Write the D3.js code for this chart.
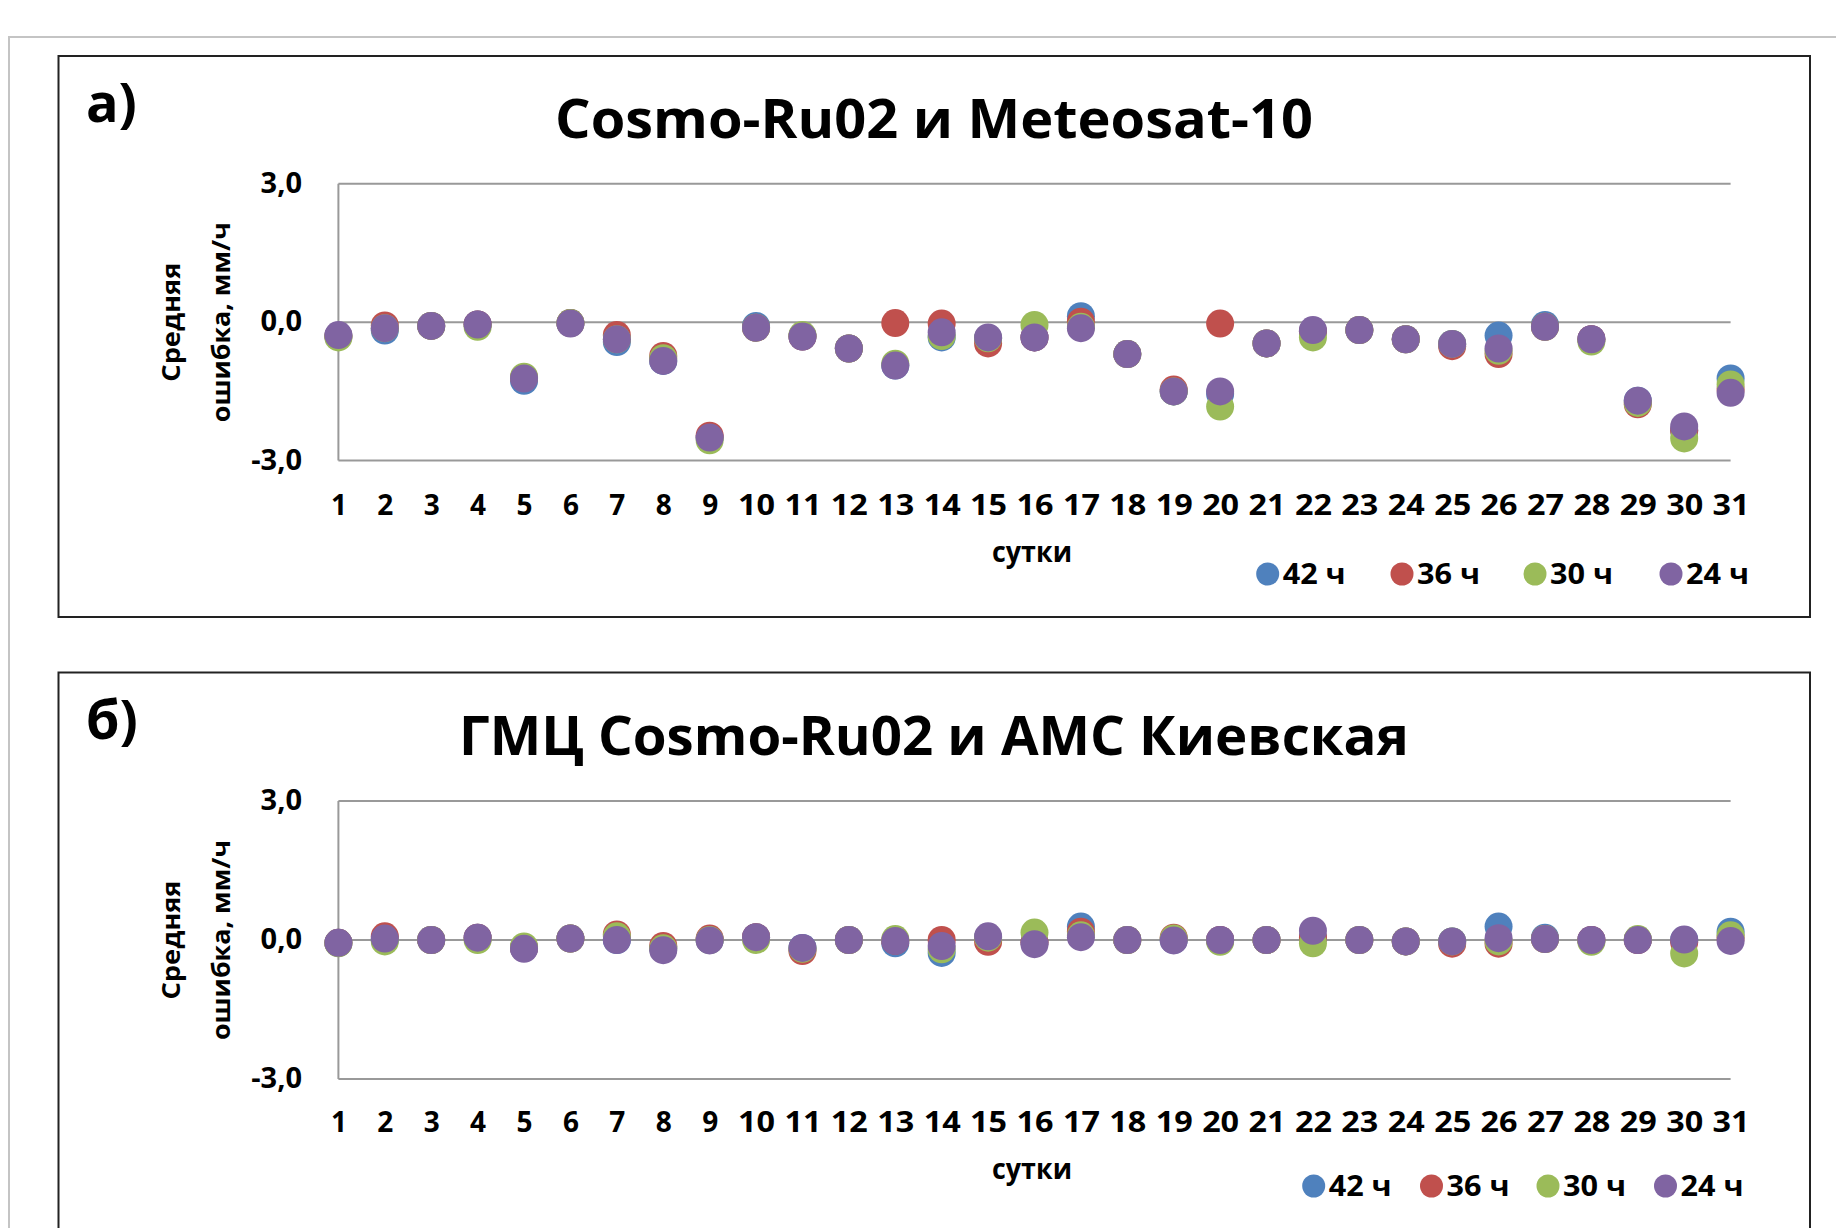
<!DOCTYPE html>
<html>
<head>
<meta charset="utf-8">
<script src="https://cdn.jsdelivr.net/npm/d3@7"></script>
<style>
  html, body { margin: 0; padding: 0; background: #ffffff; }
  svg { display: block; }
  text { font-family: "Open Sans", "Noto Sans", "DejaVu Sans", sans-serif; font-weight: 700; fill: #000; }
</style>
</head>
<body>
<svg id="chart" width="1836" height="1228"></svg>
<script>
// ---------------- DATA ----------------
const days = [1,2,3,4,5,6,7,8,9,10,11,12,13,14,15,16,17,18,19,20,21,22,23,24,25,26,27,28,29,30,31];
const seriesNames = ["42 ч", "36 ч", "30 ч", "24 ч"];
const seriesColors = ["#4F81BD", "#C0504D", "#9BBB59", "#8064A2"];
const yTickValues = [-3, 0, 3];

// Panel а) Cosmo-Ru02 и Meteosat-10
const a42 = [-0.30,-0.18,-0.08,-0.05,-1.27,-0.02,-0.43,-0.84,-2.50,-0.08,-0.31,-0.57,-0.94,-0.33,-0.35,-0.33, 0.13,-0.69,-1.50,-1.55,-0.46,-0.20,-0.17,-0.37,-0.47,-0.29,-0.06,-0.37,-1.70,-2.35,-1.22];
const a36 = [-0.30,-0.07,-0.08,-0.05,-1.20,-0.02,-0.28,-0.73,-2.46,-0.12,-0.31,-0.57,-0.02,-0.03,-0.46,-0.33, 0.01,-0.69,-1.46,-0.03,-0.46,-0.20,-0.17,-0.37,-0.52,-0.69,-0.10,-0.37,-1.78,-2.35,-1.45];
const a30 = [-0.33,-0.13,-0.08,-0.10,-1.18,-0.02,-0.37,-0.78,-2.56,-0.12,-0.28,-0.57,-0.90,-0.30,-0.35,-0.06,-0.10,-0.69,-1.50,-1.83,-0.46,-0.33,-0.17,-0.37,-0.47,-0.62,-0.10,-0.42,-1.75,-2.52,-1.35];
const a24 = [-0.28,-0.13,-0.08,-0.05,-1.22,-0.03,-0.37,-0.84,-2.50,-0.12,-0.31,-0.57,-0.94,-0.22,-0.33,-0.33,-0.13,-0.69,-1.50,-1.50,-0.46,-0.17,-0.17,-0.37,-0.47,-0.57,-0.10,-0.37,-1.70,-2.26,-1.53];

// Panel б) ГМЦ Cosmo-Ru02 и АМС Киевская
const b42 = [-0.06, 0.00, 0.00, 0.05,-0.17, 0.03, 0.00,-0.18, 0.00, 0.06,-0.17, 0.00,-0.07,-0.28, 0.05,-0.05, 0.29, 0.00, 0.00, 0.00, 0.00, 0.05, 0.00,-0.03,-0.03, 0.29, 0.05, 0.00, 0.00, 0.00, 0.18];
const b36 = [-0.06, 0.08, 0.00, 0.05,-0.17, 0.03, 0.12,-0.13, 0.03, 0.06,-0.24, 0.00,-0.02, 0.00,-0.04,-0.05, 0.18, 0.00, 0.05, 0.00, 0.00, 0.05, 0.00,-0.03,-0.08,-0.08, 0.02, 0.00, 0.00,-0.05, 0.05];
const b30 = [-0.07,-0.03, 0.00, 0.00,-0.14, 0.03, 0.08,-0.18, 0.00, 0.00,-0.19, 0.00, 0.02,-0.20, 0.05, 0.16, 0.10, 0.00, 0.03,-0.04, 0.00,-0.07, 0.00,-0.03,-0.03,-0.03, 0.02,-0.04, 0.02,-0.29, 0.10];
const b24 = [-0.06, 0.03, 0.00, 0.05,-0.19, 0.03, 0.00,-0.22,-0.01, 0.06,-0.17, 0.00,-0.02,-0.13, 0.08,-0.09, 0.06, 0.00,-0.01, 0.00, 0.00, 0.20, 0.00,-0.03,-0.03, 0.04, 0.02, 0.00, 0.00, 0.01,-0.02];

const panels = [
  { label: "а)", title: "Cosmo-Ru02 и Meteosat-10", titleLen: 758, series: [a42, a36, a30, a24],
    top: 56, yTop: 183.8, yBot: 460.6, legendY: 574, legendX: [1267.7, 1402, 1535, 1671] },
  { label: "б)", title: "ГМЦ Cosmo-Ru02 и АМС Киевская", titleLen: 950, series: [b42, b36, b30, b24],
    top: 672.5, yTop: 801, yBot: 1079, legendY: 1186, legendX: [1313.7, 1431.5, 1548, 1665.5] }
];

// ---------------- DRAW ----------------
const svg = d3.select("#chart");
const locale = d3.formatLocale({ decimal: ",", thousands: " ", grouping: [3], currency: ["", ""], minus: "-" });
const fmt = locale.format(".1f");

// outer light frame
svg.append("rect")
  .attr("x", 9).attr("y", 37).attr("width", 1900).attr("height", 1300)
  .attr("fill", "none").attr("stroke", "#c4c4c4").attr("stroke-width", 2);

const x = d3.scalePoint().domain(days).range([338.4, 1730.6]).padding(0);

panels.forEach(p => {
  const dy = p.top - 56;
  const g = svg.append("g");

  // panel frame
  g.append("rect")
    .attr("x", 58.5).attr("y", p.top)
    .attr("width", 1810 - 58.5).attr("height", p.top === 56 ? 561 : 700)
    .attr("fill", "#fff").attr("stroke", "#222").attr("stroke-width", 2);

  const y = d3.scaleLinear().domain([-3, 3]).range([p.yBot, p.yTop]);

  // label and title
  g.append("text").attr("x", 86).attr("y", 122 + dy)
    .style("font-size", "54px").text(p.label);
  g.append("text").attr("x", 934).attr("y", 138 + dy)
    .attr("text-anchor", "middle")
    .attr("textLength", p.titleLen).attr("lengthAdjust", "spacingAndGlyphs")
    .style("font-size", "54px").text(p.title);

  // gridlines
  g.selectAll("line.grid").data(yTickValues).join("line")
    .attr("class", "grid")
    .attr("x1", x(days[0])).attr("x2", x(days[days.length - 1]))
    .attr("y1", d => y(d)).attr("y2", d => y(d))
    .attr("stroke", "#999").attr("stroke-width", 2);
  // vertical axis line
  g.append("line")
    .attr("x1", x(days[0])).attr("x2", x(days[0]))
    .attr("y1", y(3)).attr("y2", y(-3))
    .attr("stroke", "#999").attr("stroke-width", 2);

  // y axis labels
  const yAxis = d3.axisLeft(y).tickValues(yTickValues).tickFormat(fmt).tickSize(0).tickPadding(0);
  const ya = g.append("g").attr("transform", "translate(302,0)").call(yAxis);
  ya.select(".domain").remove();
  ya.selectAll("text").attr("font-family", null).attr("font-size", null)
    .style("font-size", "29px").attr("dy", "0.3em").attr("x", 0);

  // x axis labels
  const xAxis = d3.axisBottom(x).tickSize(0).tickPadding(0);
  const xa = g.append("g").attr("transform", `translate(0,${515 + dy})`).call(xAxis);
  xa.select(".domain").remove();
  xa.selectAll("text").attr("font-family", null).attr("font-size", null)
    .style("font-size", "28px").attr("dy", 0).attr("y", 0)
    .attr("textLength", d => String(d).length > 1 ? 37 : null)
    .attr("lengthAdjust", "spacingAndGlyphs");

  // axis titles
  g.append("text").attr("x", 1032).attr("y", 562 + dy).attr("text-anchor", "middle")
    .attr("textLength", 80).attr("lengthAdjust", "spacingAndGlyphs")
    .style("font-size", "28px").text("сутки");
  const yc = (p.yTop + p.yBot) / 2;
  g.append("text").attr("transform", `translate(180,${yc}) rotate(-90)`)
    .attr("text-anchor", "middle").attr("textLength", 119).attr("lengthAdjust", "spacingAndGlyphs")
    .style("font-size", "25px").text("Средняя");
  g.append("text").attr("transform", `translate(230,${yc}) rotate(-90)`)
    .attr("text-anchor", "middle").attr("textLength", 200).attr("lengthAdjust", "spacingAndGlyphs")
    .style("font-size", "25px").text("ошибка,  мм/ч");

  // data dots: 42 ч first, 24 ч on top
  p.series.forEach((vals, si) => {
    g.append("g").selectAll("circle").data(days).join("circle")
      .attr("cx", (d) => x(d))
      .attr("cy", (d, i) => y(vals[i]))
      .attr("r", 14)
      .attr("fill", seriesColors[si]);
  });

  // legend
  const lg = g.append("g");
  seriesNames.forEach((name, si) => {
    lg.append("circle").attr("cx", p.legendX[si]).attr("cy", p.legendY).attr("r", 11.5)
      .attr("fill", seriesColors[si]);
    lg.append("text").attr("x", p.legendX[si] + 15).attr("y", p.legendY + 10)
      .attr("textLength", 63).attr("lengthAdjust", "spacingAndGlyphs")
      .style("font-size", "28px").text(name);
  });
});
</script>
</body>
</html>
